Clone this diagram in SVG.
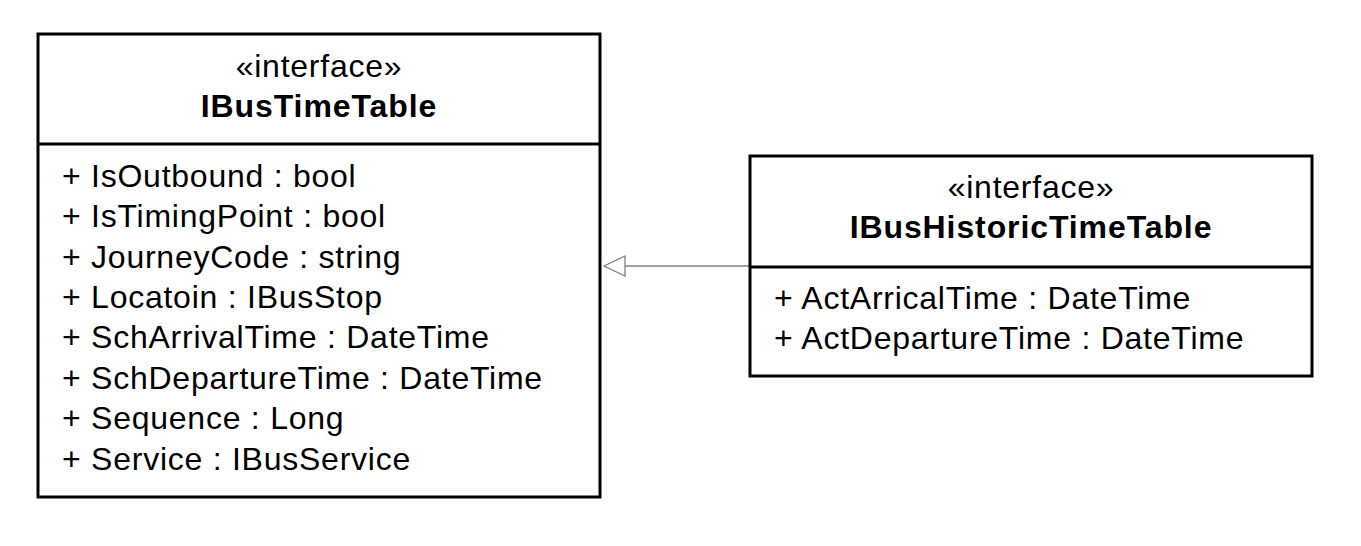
<svg xmlns="http://www.w3.org/2000/svg" width="1361" height="546" viewBox="0 0 1361 546">
<style>
.box{fill:#fff;stroke:#000;stroke-width:3}
.div{stroke:#000;stroke-width:3}
text{font-family:"Liberation Sans",Arial,sans-serif;font-size:32px;letter-spacing:0.75px;fill:#000}
.c{text-anchor:middle}
.b{font-weight:bold;letter-spacing:0.9px}
.conn{stroke:#808080;stroke-width:1.3;fill:none}
.head{fill:#fff;stroke:#808080;stroke-width:1.3}
</style>
<rect width="1361" height="546" fill="#fff"/>
<g id="connectors">
<line class="conn" x1="750" y1="266" x2="625" y2="266"/>
<polygon class="head" points="604,266 625,256 625,276"/>
</g>
<g id="IBusTimeTable">
<rect class="box" x="38" y="34" width="562" height="463"/>
<line class="div" x1="38" y1="144" x2="600" y2="144"/>
<text class="c" x="319" y="77">«interface»</text>
<text class="c b" x="319" y="117">IBusTimeTable</text>
<text x="62" y="187">+ IsOutbound : bool</text>
<text x="62" y="227">+ IsTimingPoint : bool</text>
<text x="62" y="268">+ JourneyCode : string</text>
<text x="62" y="308">+ Locatoin : IBusStop</text>
<text x="62" y="348">+ SchArrivalTime : DateTime</text>
<text x="62" y="389">+ SchDepartureTime : DateTime</text>
<text x="62" y="429">+ Sequence : Long</text>
<text x="62" y="470">+ Service : IBusService</text>
</g>
<g id="IBusHistoricTimeTable">
<rect class="box" x="750" y="156" width="562" height="220"/>
<line class="div" x1="750" y1="267" x2="1312" y2="267"/>
<text class="c" x="1031" y="198">«interface»</text>
<text class="c b" x="1031" y="238">IBusHistoricTimeTable</text>
<text x="774" y="309">+ ActArricalTime : DateTime</text>
<text x="774" y="349">+ ActDepartureTime : DateTime</text>
</g>
</svg>
